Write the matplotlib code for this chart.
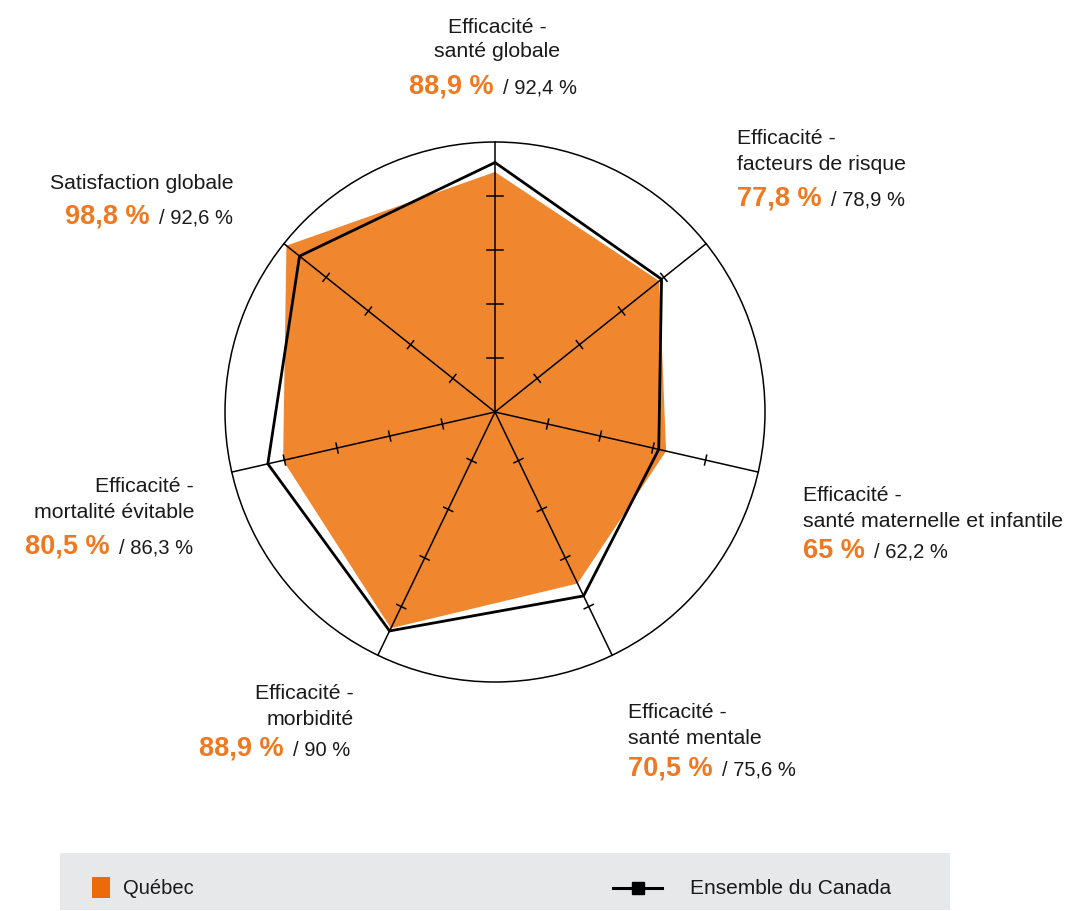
import numpy as np
import matplotlib
matplotlib.use("Agg")
import matplotlib.pyplot as plt
from matplotlib.patches import Circle, Rectangle
from matplotlib.lines import Line2D

# ---- data ----
categories = [
    "Efficacité -\nsanté globale",
    "Efficacité -\nfacteurs de risque",
    "Efficacité -\nsanté maternelle et infantile",
    "Efficacité -\nsanté mentale",
    "Efficacité -\nmorbidité",
    "Efficacité -\nmortalité évitable",
    "Satisfaction globale",
]
quebec = [88.9, 77.8, 65.0, 70.5, 88.9, 80.5, 98.8]
canada = [92.4, 78.9, 62.2, 75.6, 90.0, 86.3, 92.6]
quebec_labels = ["88,9 %", "77,8 %", "65 %", "70,5 %", "88,9 %", "80,5 %", "98,8 %"]
canada_labels = ["92,4 %", "78,9 %", "62,2 %", "75,6 %", "90 %", "86,3 %", "92,6 %"]
ring_ticks = [20, 40, 60, 80]
legend_labels = ["Québec", "Ensemble du Canada"]

ORANGE_FILL = "#F0862E"
ORANGE_TXT = "#F07820"
ORANGE_LEG = "#EB6A0C"
FONT = "Liberation Sans"

W, H = 1074, 911
fig = plt.figure(figsize=(W / 100, H / 100), dpi=100)
ax = fig.add_axes([0, 0, 1, 1])
ax.set_xlim(0, W)
ax.set_ylim(H, 0)
ax.axis("off")

cx, cy, R = 495, 412, 270.0
n = len(categories)
theta = np.arange(n) * 2 * np.pi / n


def to_xy(vals):
    vals = np.asarray(vals, float) / 100.0 * R
    return cx + vals * np.sin(theta), cy - vals * np.cos(theta)


# Quebec fill
qx, qy = to_xy(quebec)
ax.fill(qx, qy, color=ORANGE_FILL, lw=0, zorder=1)

# spokes and ticks
for i, th in enumerate(theta):
    ex, ey = cx + R * np.sin(th), cy - R * np.cos(th)
    ax.plot([cx, ex], [cy, ey], color="black", lw=1.1, zorder=2)
    tl = 8 if i == 0 else 5
    px, py = np.cos(th), np.sin(th)
    for t in ring_ticks:
        r = t / 100 * R
        tx, ty = cx + r * np.sin(th), cy - r * np.cos(th)
        ax.plot([tx - tl * px, tx + tl * px], [ty - tl * py, ty + tl * py],
                color="black", lw=1.1, zorder=2)

ax.add_patch(Circle((cx, cy), R, fill=False, ec="black", lw=1.1, zorder=2))

# Canada line
kx, ky = to_xy(canada)
ax.plot(np.append(kx, kx[0]), np.append(ky, ky[0]), color="black", lw=2.0,
        zorder=3, solid_joinstyle="miter")

# ---- labels ----
LBL = 15.3
QV = 19.5
CV = 14.5
layout = [
    (497, "center", 33, 24, 94, 409),
    (737, "left", 144, 26, 205, 737),
    (803, "left", 501, 26, 558, 803),
    (628, "left", 718, 26, 775, 628),
    (354, "right", 699, 26, 756, 350),
    (194, "right", 492, 26, 554, 193),
    (234, "right", 189, 27, 224, 233),
]

fig.canvas.draw()
renderer = fig.canvas.get_renderer()
inv = ax.transData.inverted()

for i, (x, ha, y1, gap, yv, xv) in enumerate(layout):
    lines = categories[i].split("\n")
    for j, ln in enumerate(lines):
        ax.text(x, y1 + j * gap, ln, ha=ha, va="baseline", fontsize=LBL,
                family=FONT, color="#1a1a1a")
    if ha == "right":
        tb = ax.text(xv, yv, "/ " + canada_labels[i], ha="right", va="baseline",
                     fontsize=CV, family=FONT, color="#1a1a1a")
        bb = tb.get_window_extent(renderer)
        x0 = inv.transform((bb.x0, bb.y0))[0]
        ax.text(x0 - 9, yv, quebec_labels[i], ha="right", va="baseline",
                fontsize=QV, family=FONT, color=ORANGE_TXT, weight="bold")
    else:
        to = ax.text(xv, yv, quebec_labels[i], ha="left", va="baseline",
                     fontsize=QV, family=FONT, color=ORANGE_TXT, weight="bold")
        bb = to.get_window_extent(renderer)
        x1 = inv.transform((bb.x1, bb.y0))[0]
        ax.text(x1 + 9, yv, "/ " + canada_labels[i], ha="left", va="baseline",
                fontsize=CV, family=FONT, color="#1a1a1a")

# ---- legend ----
ax.add_patch(Rectangle((60, 853), 890, 57, fc="#E7E8EA", ec="none", zorder=0))
ax.add_patch(Rectangle((92, 877), 18, 21, fc=ORANGE_LEG, ec="none", zorder=1))
ax.text(123, 888, legend_labels[0], ha="left", va="center", fontsize=14.5,
        family=FONT, color="#1a1a1a")
ax.add_line(Line2D([613, 662], [888, 888], color="black", lw=2.2))
ax.plot([637.5], [888], marker="s", color="black", ms=8)
ax.text(690, 888, legend_labels[1], ha="left", va="center", fontsize=15,
        family=FONT, color="#1a1a1a")

fig.savefig("out.png", dpi=100)
